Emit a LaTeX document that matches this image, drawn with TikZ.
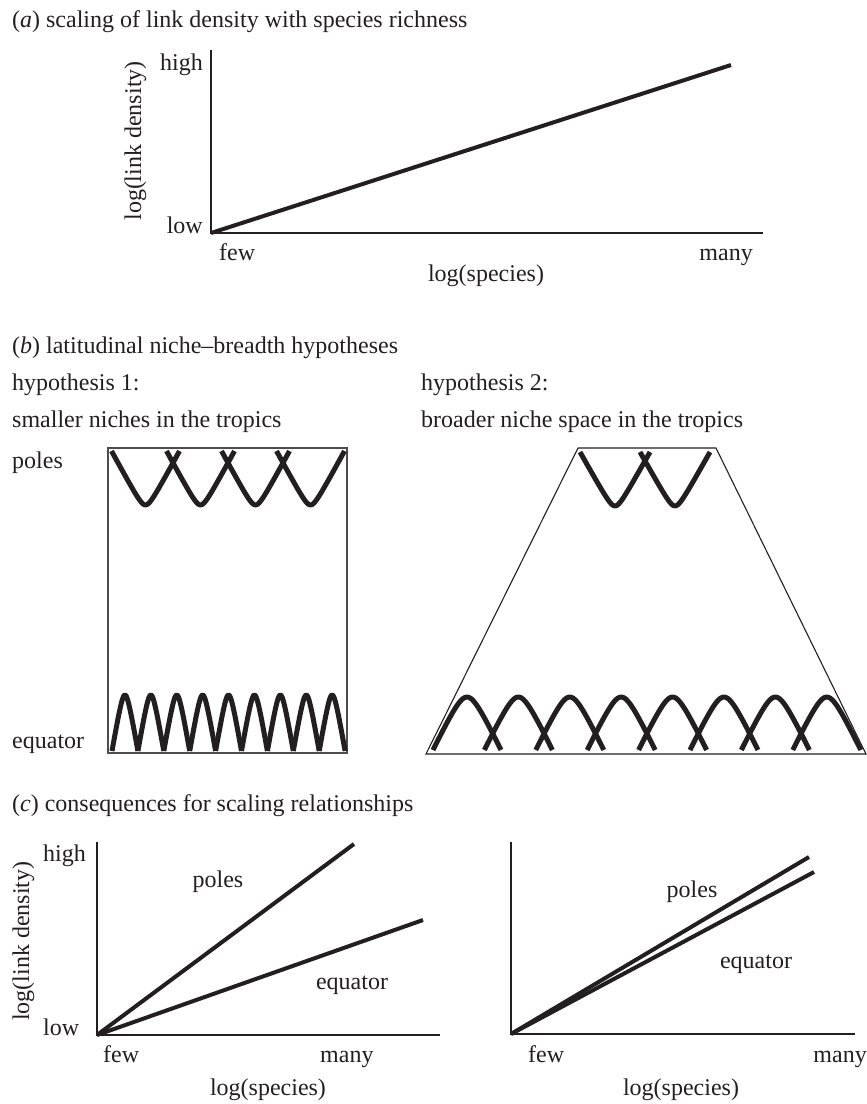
\documentclass[tikz,border=0pt]{standalone}
\usepackage{fontspec}
\setmainfont{Liberation Serif}
\definecolor{inkc}{RGB}{35,31,32}
\tikzset{
  axisline/.style={draw=inkc, line width=1.3pt},
  dataline/.style={draw=inkc, line width=4pt},
  nicheline/.style={draw=inkc, line width=5pt, line join=round},
  frameline/.style={draw=inkc!80, line width=1.3pt},
  lbl/.style={inner sep=0pt, font=\fontsize{24}{28}\selectfont, text=inkc},
}
\begin{document}
\begin{tikzpicture}[x=1pt,y=-1pt]
\useasboundingbox (0,0) rectangle (867,1104);
% ---------------- (a)
\node[lbl,anchor=base west] (ta) at (12,27) {(\textit{a}) scaling of link density with species richness};
\coordinate (a0) at (211,233);
\coordinate (atop) at (211,50);
\coordinate (aright) at (763,233);
\coordinate (aend) at (731,65);
\draw[axisline] (atop) -- (a0) -- (aright);
\draw[dataline] (a0) -- (aend);
\node[lbl,anchor=base east] (ahigh) at (203,70) {high};
\node[lbl,anchor=base east] (alow) at (203,233) {low};
\node[lbl,anchor=base west] (afew) at (219,260) {few};
\node[lbl,anchor=base east] (amany) at (753,260) {many};
\node[lbl,anchor=base] (axl) at (486,281) {log(species)};
\node[lbl,anchor=base,rotate=90] (ayl) at (141,141) {log(link density)};
% ---------------- (b)
\node[lbl,anchor=base west] (tb) at (12,353) {(\textit{b}) latitudinal niche–breadth hypotheses};
\node[lbl,anchor=base west] (h1) at (12,390) {hypothesis 1:};
\node[lbl,anchor=base west] (h2) at (421,390) {hypothesis 2:};
\node[lbl,anchor=base west] (h1t) at (12,427) {smaller niches in the tropics};
\node[lbl,anchor=base west] (h2t) at (421,427) {broader niche space in the tropics};
\node[lbl,anchor=base west] (bpoles) at (12,468) {poles};
\node[lbl,anchor=base west] (bequator) at (12,748) {equator};
% box 1
\draw[frameline] (108,448) rectangle (347,753);
% U-shaped niches at poles (hypothesis 1)
\foreach \c in {145.5,200.5,255.5,310.5}{
  \draw[nicheline] plot[domain=-1:1,samples=41,smooth]
    ({\c+34*\x},{505-54*(sqrt(\x*\x+0.0225)-0.15)/(sqrt(1.0225)-0.15)});
}
% arches at equator (hypothesis 1)
\foreach \i in {0,...,8}{
  \pgfmathsetmacro{\c}{112+25.9*\i+12.95}
  \draw[nicheline] plot[domain=-1:1,samples=41,smooth]
    ({\c+12.95*\x},{695+56*(sqrt(\x*\x+0.09)-0.3)/(sqrt(1.09)-0.3)});
}
% trapezoid (hypothesis 2)
\draw[draw=inkc, line width=1.1pt, line join=miter] (578,448) -- (716,448) -- (866,754) -- (426,754) -- cycle;
\foreach \c in {615,675}{
  \draw[nicheline] plot[domain=-1:1,samples=41,smooth]
    ({\c+35*\x},{506-54*(sqrt(\x*\x+0.0225)-0.15)/(sqrt(1.0225)-0.15)});
}
\foreach \i in {0,...,7}{
  \pgfmathsetmacro{\c}{467+51.4*\i}
  \draw[nicheline] plot[domain=-1:1,samples=41,smooth]
    ({\c+34*\x},{697+53*(sqrt(\x*\x+0.09)-0.3)/(sqrt(1.09)-0.3)});
}
% ---------------- (c)
\node[lbl,anchor=base west] (tc) at (12,811) {(\textit{c}) consequences for scaling relationships};
% left plot
\coordinate (c0) at (97,1035);
\coordinate (ctop) at (97,842);
\coordinate (cright) at (440,1035);
\coordinate (cpe) at (354,844);
\coordinate (cee) at (423,920);
\draw[axisline] (ctop) -- (c0) -- (cright);
\draw[dataline] (c0) -- (cpe);
\draw[dataline] (c0) -- (cee);
\node[lbl,anchor=base west] (chigh) at (43,861) {high};
\node[lbl,anchor=base west] (clow) at (43,1035) {low};
\node[lbl,anchor=base] (cpoles) at (218,887) {poles};
\node[lbl,anchor=base] (cequator) at (352,989) {equator};
\node[lbl,anchor=base west] (cfew) at (103,1062) {few};
\node[lbl,anchor=base west] (cmany) at (320,1062) {many};
\node[lbl,anchor=base] (cxl) at (268,1095) {log(species)};
\node[lbl,anchor=base,rotate=90] (cyl) at (29,941) {log(link density)};
% right plot
\coordinate (d0) at (511,1034);
\coordinate (dtop) at (511,842);
\coordinate (dright) at (855,1034);
\coordinate (dpe) at (809,857);
\coordinate (dee) at (814,872);
\draw[axisline] (dtop) -- (d0) -- (dright);
\draw[dataline] (d0) -- (dpe);
\draw[dataline] (d0) -- (dee);
\node[lbl,anchor=base] (dpoles) at (692,897) {poles};
\node[lbl,anchor=base] (dequator) at (756,968) {equator};
\node[lbl,anchor=base west] (dfew) at (528,1062) {few};
\node[lbl,anchor=base east] (dmany) at (867,1062) {many};
\node[lbl,anchor=base] (dxl) at (681,1095) {log(species)};
\end{tikzpicture}
\end{document}
